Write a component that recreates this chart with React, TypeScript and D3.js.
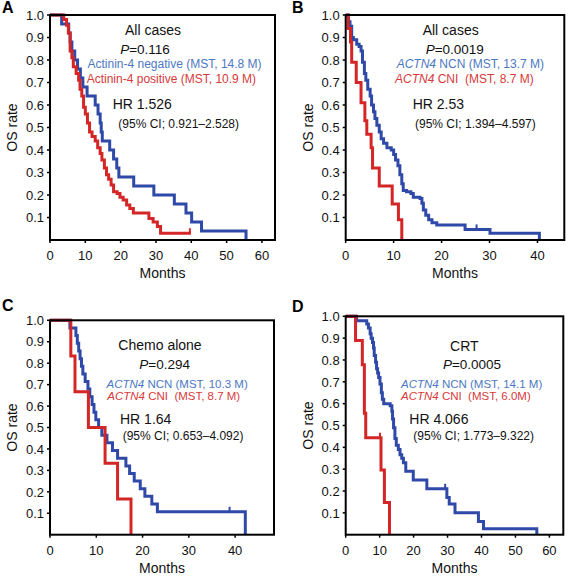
import React from "react";
import * as d3 from "d3";

// ---------- DATA ----------
// Panel A: All cases, Actinin-4 negative (blue) / positive (red)
const aNegT = [0, 3.3, 5.3, 5.7, 6.2, 7.0, 7.8, 8.6, 9.3, 10.5, 12.8, 13.6, 14.2, 14.5, 14.8, 16.9, 18.0, 18.9, 19.5, 23.7, 29.4, 35.2, 38.5, 40.1, 42.9, 55.5];
const aNegS = [1, 0.96, 0.92, 0.88, 0.84, 0.8, 0.76, 0.72, 0.68, 0.64, 0.6, 0.56, 0.52, 0.48, 0.44, 0.4, 0.36, 0.32, 0.28, 0.24, 0.2, 0.16, 0.12, 0.08, 0.04, 0];
const aPosT = [0, 3.9, 4.7, 5.2, 5.7, 6.2, 6.6, 7.4, 8.1, 8.5, 9.0, 9.5, 10.0, 10.6, 11.2, 11.9, 12.8, 13.5, 14.2, 14.7, 15.4, 16.0, 16.6, 17.3, 18.0, 19.0, 19.8, 20.7, 21.7, 22.6, 23.6, 28.0, 29.2, 30.4, 31.3, 39.9];
const aPosS = [1, 0.98, 0.955, 0.92, 0.84, 0.81, 0.77, 0.74, 0.71, 0.67, 0.64, 0.59, 0.56, 0.52, 0.48, 0.46, 0.44, 0.41, 0.385, 0.356, 0.32, 0.29, 0.27, 0.245, 0.215, 0.207, 0.19, 0.178, 0.156, 0.14, 0.12, 0.096, 0.08, 0.06, 0.03, 0.03];

// Panel B: All cases, ACTN4 NCN (blue) / CNI (red)
const bNcnT = [0, 0.56, 0.9, 1.25, 1.6, 2.3, 2.8, 3.2, 3.5, 3.9, 4.2, 4.6, 5.1, 5.4, 5.8, 6.1, 6.5, 7.0, 7.4, 7.9, 8.6, 9.5, 10.0, 10.4, 10.9, 11.3, 11.7, 12.0, 12.7, 13.6, 14.1, 15.5, 15.9, 16.2, 16.7, 17.3, 18.0, 19.0, 24.9, 30.1, 40.4];
const bNcnS = [1, 0.97, 0.95, 0.9, 0.89, 0.87, 0.86, 0.84, 0.79, 0.74, 0.71, 0.67, 0.64, 0.6, 0.57, 0.54, 0.51, 0.48, 0.45, 0.43, 0.41, 0.4, 0.38, 0.356, 0.33, 0.29, 0.25, 0.22, 0.215, 0.207, 0.19, 0.185, 0.163, 0.133, 0.11, 0.09, 0.077, 0.067, 0.047, 0.03, 0];
const bCniT = [0, 0.5, 1.0, 1.25, 2.2, 3.2, 4.0, 4.4, 5.3, 5.6, 7.0, 9.7, 11.0, 11.7];
const bCniS = [1, 0.94, 0.88, 0.79, 0.7, 0.61, 0.53, 0.47, 0.41, 0.32, 0.24, 0.16, 0.09, 0];

// Panel C: Chemo alone
const cNcnT = [0, 4.3, 5.6, 5.9, 6.2, 6.5, 6.8, 7.1, 7.6, 8.2, 8.6, 9.1, 9.5, 9.9, 10.5, 11.2, 12.3, 13.5, 14.6, 16.4, 17.2, 18.2, 19.5, 20.5, 22.0, 23.2, 42.2];
const cNcnS = [1, 0.964, 0.929, 0.893, 0.857, 0.821, 0.786, 0.75, 0.714, 0.679, 0.643, 0.607, 0.571, 0.536, 0.5, 0.464, 0.429, 0.393, 0.357, 0.321, 0.286, 0.25, 0.214, 0.179, 0.143, 0.107, 0];
const cCniT = [0, 4.5, 5.4, 8.3, 11.9, 14.6, 17.5];
const cCniS = [1, 0.833, 0.667, 0.5, 0.333, 0.167, 0];

// Panel D: CRT
const dNcnT = [0, 3.2, 6.2, 6.7, 7.2, 7.5, 7.9, 8.2, 8.4, 8.8, 9.1, 9.4, 9.7, 10.1, 10.5, 10.8, 11.2, 13.1, 13.6, 13.8, 14.1, 14.5, 14.9, 15.5, 16.0, 16.5, 17.0, 17.7, 19.9, 23.9, 29.8, 30.5, 32.2, 39.1, 40.6, 56.3];
const dNcnS = [1, 0.98, 0.965, 0.946, 0.92, 0.9, 0.88, 0.855, 0.82, 0.79, 0.76, 0.74, 0.72, 0.69, 0.65, 0.62, 0.6, 0.59, 0.565, 0.53, 0.49, 0.44, 0.41, 0.39, 0.366, 0.35, 0.33, 0.29, 0.25, 0.21, 0.17, 0.14, 0.1, 0.06, 0.027, 0];
const dCniT = [0, 2.9, 4.9, 5.5, 5.9, 10.4, 11.4, 12.9];
const dCniS = [1, 0.889, 0.778, 0.556, 0.444, 0.296, 0.148, 0];

// Censor marks [time, survival]
const aPosCensor = [[39.6, 0.03]];
const bNcnCensor = [[27.3, 0.047]];
const cNcnCensor = [[38.8, 0.107]];
const dNcnCensor = [[29.3, 0.21]];
const dCniCensor = [[10.1, 0.444]];

const yTicks = [0.1, 0.2, 0.3, 0.4, 0.5, 0.6, 0.7, 0.8, 0.9, 1.0];
const xTicks60 = [0, 10, 20, 30, 40, 50, 60];
const xTicks40 = [0, 10, 20, 30, 40];

const BLUE = "#2f49a8";
const RED = "#d42626";
const BLUE_TXT = "#4d78c2";
const RED_TXT = "#d63a3a";
const FONT = "'Liberation Sans', Arial, Helvetica, sans-serif";

type Curve = { t: number[]; s: number[]; color: string; censor?: number[][] };

type PanelProps = {
  letter: string;
  box: { left: number; right: number; top: number; bottom: number };
  xMax: number;
  xTicks: number[];
  curves: Curve[];
  title: string;
  titleX: number; titleY: number;
  pText: string; pX: number; pY: number;
  legendItalic: boolean;
  legendSize: number;
  blueLabel: string; redLabel: string;
  blueX: number; blueY: number; redX: number; redY: number;
  hr: string; hrX: number; hrY: number;
  ci: string; ciX: number; ciY: number;
  letterY: number;
  letterX: number;
};

function Panel(p: PanelProps) {
  const { box } = p;
  const x = d3.scaleLinear().domain([0, p.xMax]).range([box.left, box.right]);
  const y = d3.scaleLinear().domain([0, 1]).range([box.bottom, box.top]);
  const line = d3
    .line<[number, number]>()
    .x((d) => x(d[0]))
    .y((d) => y(d[1]))
    .curve(d3.curveStepAfter);
  const tickStyle = { fontFamily: FONT, fontSize: 13, fill: "#111" };
  return (
    <g>
      <text x={p.letterX} y={p.letterY} fontFamily={FONT} fontWeight="bold" fontSize={16} fill="#000">
        {p.letter}
      </text>
      {p.curves.map((c, i) => (
        <g key={i}>
          <path
            d={line(c.t.map((t, k) => [t, c.s[k]] as [number, number])) || ""}
            fill="none"
            stroke={c.color}
            strokeWidth={3}
            strokeLinejoin="miter"
          />
          {(c.censor || []).map((m, k) => (
            <line key={k} x1={x(m[0])} x2={x(m[0])} y1={y(m[1])} y2={y(m[1]) - 5} stroke={c.color} strokeWidth={2} />
          ))}
        </g>
      ))}
      <rect
        x={box.left}
        y={box.top}
        width={box.right - box.left}
        height={box.bottom - box.top}
        fill="none"
        stroke="#000"
        strokeWidth={2}
      />
      {yTicks.map((v) => (
        <g key={v}>
          <line x1={box.left - 3} x2={box.left} y1={y(v)} y2={y(v)} stroke="#000" strokeWidth={1.5} />
          <text x={box.left - 6} y={y(v)} dy="0.36em" textAnchor="end" {...tickStyle}>
            {d3.format(".1f")(v)}
          </text>
        </g>
      ))}
      {p.xTicks.map((v) => (
        <g key={v}>
          <line x1={x(v)} x2={x(v)} y1={box.bottom} y2={box.bottom + 3} stroke="#000" strokeWidth={1.5} />
          <text x={x(v)} y={box.bottom + 20} textAnchor="middle" {...tickStyle}>
            {v}
          </text>
        </g>
      ))}
      <text
        x={(box.left + box.right) / 2}
        y={box.bottom + 38}
        textAnchor="middle"
        fontFamily={FONT}
        fontSize={14}
        fill="#111"
      >
        Months
      </text>
      <text
        transform={`translate(${box.left - 33},${(box.top + box.bottom) / 2}) rotate(-90)`}
        textAnchor="middle"
        fontFamily={FONT}
        fontSize={14}
        fill="#111"
      >
        OS rate
      </text>
      <text x={p.titleX} y={p.titleY} textAnchor="middle" fontFamily={FONT} fontSize={14} fill="#111">
        {p.title}
      </text>
      <text x={p.pX} y={p.pY} textAnchor="middle" fontFamily={FONT} fontSize={13.5} fill="#111">
        <tspan fontStyle="italic">P</tspan>
        {p.pText}
      </text>
      <text x={p.blueX} y={p.blueY} fontFamily={FONT} fontSize={p.legendSize} fill={BLUE_TXT} style={{ whiteSpace: "pre" }}>
        {p.legendItalic ? (
          <>
            <tspan fontStyle="italic">ACTN4</tspan>
            {p.blueLabel}
          </>
        ) : (
          p.blueLabel
        )}
      </text>
      <text x={p.redX} y={p.redY} fontFamily={FONT} fontSize={p.legendSize} fill={RED_TXT} style={{ whiteSpace: "pre" }}>
        {p.legendItalic ? (
          <>
            <tspan fontStyle="italic">ACTN4</tspan>
            {p.redLabel}
          </>
        ) : (
          p.redLabel
        )}
      </text>
      <text x={p.hrX} y={p.hrY} fontFamily={FONT} fontSize={14} fill="#111">
        {p.hr}
      </text>
      <text x={p.ciX} y={p.ciY} fontFamily={FONT} fontSize={12} fill="#111">
        {p.ci}
      </text>
    </g>
  );
}

export default function App() {
  return (
    <svg
      width={570}
      height={576}
      viewBox="0 0 570 576"
      style={{ position: "absolute", left: 0, top: 0, background: "#fff" }}
    >
      <rect x={0} y={0} width={570} height={576} fill="#fff" />
      <Panel
        letter="A"
        letterX={2}
        letterY={13}
        box={{ left: 50, right: 275, top: 15, bottom: 240 }}
        xMax={63.7}
        xTicks={xTicks60}
        curves={[
          { t: aNegT, s: aNegS, color: BLUE },
          { t: aPosT, s: aPosS, color: RED, censor: aPosCensor },
        ]}
        title="All cases"
        titleX={153}
        titleY={34.5}
        pText="=0.116"
        pX={145}
        pY={54}
        legendItalic={false}
        legendSize={12}
        blueLabel="Actinin-4 negative (MST, 14.8 M)"
        redLabel="Actinin-4 positive (MST, 10.9 M)"
        blueX={87.5}
        blueY={67.5}
        redX={86.7}
        redY={82.5}
        hr="HR 1.526"
        hrX={112.7}
        hrY={108.5}
        ci="(95% CI; 0.921–2.528)"
        ciX={118.3}
        ciY={128.3}
      />
      <Panel
        letter="B"
        letterX={292}
        letterY={13}
        box={{ left: 345.7, right: 564.3, top: 15, bottom: 240 }}
        xMax={45.6}
        xTicks={xTicks40}
        curves={[
          { t: bNcnT, s: bNcnS, color: BLUE, censor: bNcnCensor },
          { t: bCniT, s: bCniS, color: RED },
        ]}
        title="All cases"
        titleX={450.7}
        titleY={34.5}
        pText="=0.0019"
        pX={454.8}
        pY={54}
        legendItalic={true}
        legendSize={12}
        blueLabel=" NCN (MST, 13.7 M)"
        redLabel=" CNI  (MST, 8.7 M)"
        blueX={396.7}
        blueY={67.5}
        redX={395}
        redY={82.5}
        hr="HR 2.53"
        hrX={412.7}
        hrY={108.5}
        ci="(95% CI; 1.394–4.597)"
        ciX={415}
        ciY={128.3}
      />
      <Panel
        letter="C"
        letterX={2}
        letterY={311}
        box={{ left: 50, right: 274, top: 320.3, bottom: 534.7 }}
        xMax={48.4}
        xTicks={xTicks40}
        curves={[
          { t: cNcnT, s: cNcnS, color: BLUE, censor: cNcnCensor },
          { t: cCniT, s: cCniS, color: RED },
        ]}
        title="Chemo alone"
        titleX={160}
        titleY={350.3}
        pText="=0.294"
        pX={164.7}
        pY={368.7}
        legendItalic={true}
        legendSize={11.5}
        blueLabel=" NCN (MST, 10.3 M)"
        redLabel=" CNI  (MST, 8.7 M)"
        blueX={106.5}
        blueY={388}
        redX={107.3}
        redY={400}
        hr="HR 1.64"
        hrX={120}
        hrY={423.5}
        ci="(95% CI; 0.653–4.092)"
        ciX={122.7}
        ciY={440}
      />
      <Panel
        letter="D"
        letterX={292}
        letterY={312}
        box={{ left: 345.7, right: 563.3, top: 316.3, bottom: 534.7 }}
        xMax={64.1}
        xTicks={xTicks60}
        curves={[
          { t: dNcnT, s: dNcnS, color: BLUE, censor: dNcnCensor },
          { t: dCniT, s: dCniS, color: RED, censor: dCniCensor },
        ]}
        title="CRT"
        titleX={464.3}
        titleY={350.7}
        pText="=0.0005"
        pX={472}
        pY={368.7}
        legendItalic={true}
        legendSize={11.5}
        blueLabel=" NCN (MST, 14.1 M)"
        redLabel=" CNI  (MST, 6.0M)"
        blueX={401}
        blueY={388}
        redX={401}
        redY={400}
        hr="HR 4.066"
        hrX={409.3}
        hrY={423.5}
        ci="(95% CI; 1.773–9.322)"
        ciX={413.3}
        ciY={440}
      />
    </svg>
  );
}
